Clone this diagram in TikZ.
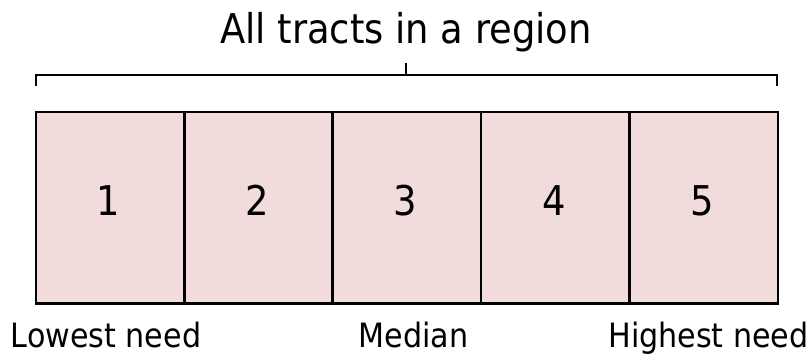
\documentclass[tikz,border=0pt]{standalone}
\usepackage{fontspec}
\setmainfont{DejaVu Sans Condensed}
\definecolor{cellpink}{HTML}{F2DCDB}
\begin{document}
\begin{tikzpicture}[x=1pt,y=-1pt,
  cell/.style={draw=black,line width=2.6pt,fill=cellpink,minimum width=148.4pt,minimum height=191.5pt,inner sep=0pt,anchor=north west},
  num/.style={font=\fontsize{41}{41}\selectfont,anchor=base,inner sep=0pt},
  lbl/.style={font=\fontsize{33.5}{33.5}\selectfont,anchor=base,inner sep=0pt},
  ttl/.style={font=\fontsize{41}{41}\selectfont,anchor=base,inner sep=0pt},
  bracepath/.style={line width=2.6pt,line cap=butt,line join=miter}]
\useasboundingbox (0,0) rectangle (812,354);
\foreach \i in {1,...,5}{
  \node[cell] (b\i) at ({34.5+148.4*(\i-1)},110.5) {};
  \node[num] (n\i) at ({34.5+148.4*(\i-1)+74.2},215) {\i};
}
\node[ttl] (title) at (406,43) {All tracts in a region};
\coordinate (bl) at (36,86);
\coordinate (br) at (777,86);
\coordinate (bt) at (406,63);
\draw[bracepath] (bl) -- (36,75) -- (777,75) -- (br);
\draw[bracepath] (406,75) -- (bt);
\node[lbl] (low) at (106,347) {Lowest need};
\node[lbl] (med) at (413.5,347) {Median};
\node[lbl] (high) at (708.5,347) {Highest need};
\end{tikzpicture}
\end{document}
